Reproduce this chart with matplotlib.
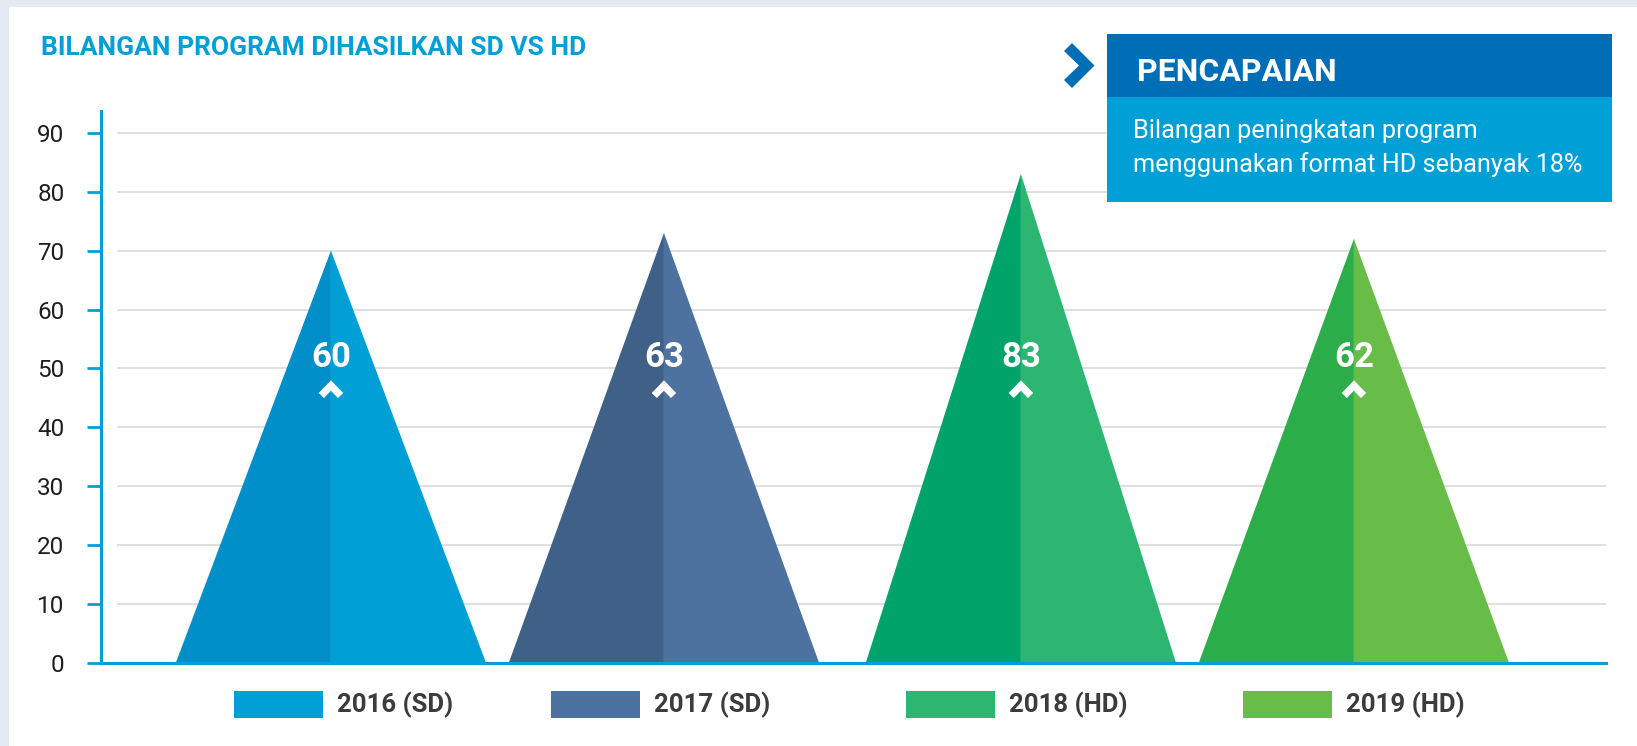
import matplotlib
matplotlib.use('Agg')
import matplotlib.pyplot as plt
from matplotlib.patches import Rectangle, Polygon
from matplotlib.transforms import blended_transform_factory

plt.rcParams['font.family'] = ['Roboto', 'DejaVu Sans']

# data
years = ['2016 (SD)', '2017 (SD)', '2018 (HD)', '2019 (HD)']
programs = [60, 63, 83, 62]          # printed values
peaks = [70, 73, 83, 72]             # height the triangles are drawn to
dark_cols = ['#008FC8', '#3F6087', '#00A36A', '#2BAE4A']
light_cols = ['#00A0D6', '#4D72A0', '#2DB672', '#67BD47']
yticks = [0, 10, 20, 30, 40, 50, 60, 70, 80, 90]

W, H = 1637, 746
fig = plt.figure(figsize=(W / 100, H / 100), dpi=100, facecolor='#E3EAF1')
fig.add_artist(Rectangle((9 / W, 0), 1, 1 - 7 / H, transform=fig.transFigure,
                         facecolor='white', edgecolor='none', zorder=-5))

ax = fig.add_axes([100.5 / W, 1 - 663 / H, (1606 - 100.5) / W, (663 - 111) / H])
ax.set_facecolor('none')

# SD and HD groups sit a little further apart
xpos = [i + (0.072 if 'HD' in y else 0) for i, y in enumerate(years)]
hw = 0.466

ax.set_xlim(-0.692, 3.829)
ax.set_ylim(0, 93.7)

# grid
for t in yticks[1:]:
    ax.hlines(t, -0.643, 3.829, color='#D9D9D9', lw=1.2, zorder=0)

for x, h, v, cd, cl in zip(xpos, peaks, programs, dark_cols, light_cols):
    ax.fill([x - hw, x, x], [0, h, 0], color=cd, lw=0, zorder=2)
    ax.fill([x, x, x + hw], [0, h, 0], color=cl, lw=0, zorder=2)
    ax.text(x, 51.9, str(v), color='white', fontsize=25, fontweight='bold',
            ha='center', va='center', zorder=4)
    ax.plot([x - 0.029, x, x + 0.029], [45.4, 47.1, 45.4], color='white',
            lw=5.2, solid_joinstyle='miter', solid_capstyle='butt', zorder=4)

# axes styling
for s in ['top', 'right']:
    ax.spines[s].set_visible(False)
for s in ['left', 'bottom']:
    ax.spines[s].set_color('#00A0D6')
    ax.spines[s].set_linewidth(2.2)
ax.set_xticks([])
ax.set_yticks(yticks)
ax.tick_params(axis='y', direction='out', length=10, width=2, color='#00A0D6',
               pad=16, labelsize=17.5, labelcolor='#1E1E1E')

# legend row (left edge of each swatch, figure pixels)
leg_left = [234, 551, 906, 1243]
for lx, name, c in zip(leg_left, years, light_cols):
    fig.add_artist(Rectangle((lx / W, 1 - 718 / H), 89 / W, 27 / H,
                             transform=fig.transFigure, facecolor=c,
                             edgecolor='none'))
    fig.text((lx + 103) / W, 1 - 704.5 / H, name, fontsize=18.5,
             fontweight='bold', color='#3C3C3C', ha='left', va='center')

# title
fig.text(41 / W, 1 - 48 / H, 'BILANGAN PROGRAM DIHASILKAN SD VS HD',
         color='#00A0D6', fontsize=19, fontweight='bold', va='center')

# achievement box
fig.add_artist(Rectangle((1107 / W, 1 - 97 / H), 505 / W, 63 / H,
                         transform=fig.transFigure, facecolor='#006EB7',
                         edgecolor='none', zorder=5))
fig.add_artist(Rectangle((1107 / W, 1 - 202 / H), 505 / W, 105 / H,
                         transform=fig.transFigure, facecolor='#00A0D6',
                         edgecolor='none', zorder=5))
chev = [(1072, 43), (1094.5, 65.5), (1072, 88), (1064, 80), (1079, 65.5), (1064, 51)]
fig.add_artist(Polygon([(px / W, 1 - py / H) for px, py in chev], closed=True,
                       transform=fig.transFigure, facecolor='#006EB7',
                       edgecolor='none', zorder=5))
fig.text(1137 / W, 1 - 81 / H, 'PENCAPAIAN', color='white', fontsize=23,
         fontweight='bold', va='baseline', zorder=6)
fig.text(1133 / W, 1 - 138 / H, 'Bilangan peningkatan program', color='white',
         fontsize=18.2, va='baseline', zorder=6)
fig.text(1133 / W, 1 - 172 / H, 'menggunakan format HD sebanyak 18%', color='white',
         fontsize=18.2, va='baseline', zorder=6)

fig.savefig('out.png', dpi=100, facecolor=fig.get_facecolor())
